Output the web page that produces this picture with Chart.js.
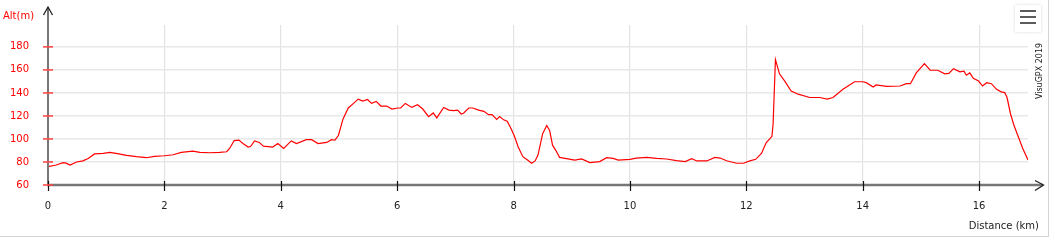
<!DOCTYPE html>
<html>
<head>
<meta charset="utf-8">
<script src="https://cdn.jsdelivr.net/npm/chart.js@4.4.0/dist/chart.umd.min.js"></script>
<style>
body{margin:0;background:#fff;}
#cadre{position:relative;width:1048px;height:236px;border-right:1px solid #d4d4d4;border-bottom:1px solid #d4d4d4;}
</style>
</head>
<body>
<div id="cadre"><canvas id="g_profil" width="1048" height="236"></canvas></div>
<script>
// profil altimetrique
let distances = [0.00,0.14,0.26,0.31,0.38,0.49,0.60,0.69,0.80,0.95,1.06,1.17,1.35,1.52,1.69,1.83,2.00,2.15,2.29,2.49,2.61,2.78,2.95,3.07,3.12,3.20,3.28,3.35,3.44,3.48,3.55,3.63,3.70,3.86,3.95,4.05,4.18,4.27,4.44,4.53,4.64,4.79,4.87,4.93,4.99,5.07,5.16,5.25,5.33,5.41,5.49,5.56,5.64,5.72,5.82,5.91,6.01,6.06,6.14,6.25,6.35,6.44,6.54,6.62,6.68,6.80,6.89,6.97,7.04,7.10,7.14,7.23,7.30,7.40,7.49,7.57,7.63,7.71,7.76,7.83,7.89,7.95,8.01,8.08,8.16,8.24,8.31,8.37,8.42,8.50,8.57,8.62,8.67,8.73,8.79,8.91,9.05,9.17,9.31,9.48,9.60,9.71,9.80,10.00,10.11,10.29,10.46,10.63,10.80,10.95,11.06,11.15,11.32,11.46,11.55,11.66,11.83,11.95,12.06,12.16,12.26,12.34,12.44,12.46,12.50,12.57,12.66,12.77,12.89,13.09,13.26,13.39,13.49,13.66,13.86,14.00,14.06,14.18,14.23,14.41,14.64,14.75,14.82,14.92,15.06,15.16,15.29,15.41,15.48,15.56,15.67,15.74,15.78,15.84,15.90,15.99,16.06,16.13,16.21,16.30,16.38,16.44,16.48,16.54,16.60,16.67,16.75,16.84];
let altitudes = [76,77.4,79.4,79,77.4,80,81,83,87,87.4,88.3,87.4,85.7,84.6,83.7,84.9,85.4,86.3,88.3,89.4,88.3,88,88.3,88.9,91.7,98.6,99,96,93,93.4,98.3,97,93.7,93,96,91.7,98.3,96,99.4,99.4,96,97,99.4,98.9,103,117.4,126.9,130.9,134.6,132.9,134.3,130.9,132.6,128.6,128.6,126,126.9,126.9,130.9,127.4,129.7,126,119.4,122.6,118.3,127.4,125.1,124.6,125.1,121.7,122.3,126.9,126.9,125.1,124,121.1,121.1,116.9,119.4,116.6,115.4,109.7,103,93,84.6,81.7,78.9,80.9,86,104.6,111.7,107.4,94.6,89.7,84,82.9,81.7,82.6,79.4,80.3,83.7,83.1,81.7,82.3,83.4,84,83.1,82.6,81.1,80.3,82.9,80.9,80.9,84,83.4,81.1,78.9,78.9,80.9,82.3,87.4,96.6,102.3,113,168.9,156.6,150.3,141.7,138.9,136,136,134.6,136,143.1,149.7,149.7,148.9,145.1,146.9,145.7,146,148,148,157.4,165.4,159.7,159.7,156.6,156.9,161.1,158.3,158.9,155.4,157.4,152.6,150.3,146,148.9,148,143.1,140.9,140.3,136,121.7,111.7,102.3,91.7,81.7];
let ticks_x = [0,2,4,6,8,10,12,14,16];
let ticks_y = [60,80,100,120,140,160,180];

let puntos = [];
for(let i = 0; i < distances.length; i++){
    puntos.push({x: distances[i], y: altitudes[i]});
}

Chart.defaults.font.family = "'DejaVu Sans', Verdana, sans-serif";
Chart.defaults.font.size = 10;

// axes avec fleches, petits traits, textes et menu
const decor = {
    id: 'decor',
    afterDraw(chart){
        const c = chart.ctx;
        const sx = chart.scales.x, sy = chart.scales.y;
        const x0 = sx.getPixelForValue(0), y0 = sy.getPixelForValue(60);
        c.save();
        c.strokeStyle = '#777';
        c.lineWidth = 2.5;
        c.beginPath(); c.moveTo(x0 - 1, y0); c.lineTo(1043, y0); c.stroke();
        c.lineWidth = 2;
        c.beginPath(); c.moveTo(x0, y0); c.lineTo(x0, 7); c.stroke();
        c.strokeStyle = '#222';
        c.lineWidth = 1.3;
        c.beginPath(); c.moveTo(43.5, 15); c.lineTo(x0, 7); c.lineTo(52.5, 15); c.stroke();
        c.beginPath(); c.moveTo(1035, 180.5); c.lineTo(1043.5, y0); c.lineTo(1035, 190.5); c.stroke();
        c.lineWidth = 1.2;
        c.strokeStyle = '#111';
        ticks_x.forEach(v => {
            let px = Math.round(sx.getPixelForValue(v)) + 0.5;
            c.beginPath(); c.moveTo(px, 181); c.lineTo(px, 191); c.stroke();
        });
        c.strokeStyle = '#ff4a4a';
        c.lineWidth = 1.6;
        ticks_y.forEach(v => {
            let py = sy.getPixelForValue(v);
            c.beginPath(); c.moveTo(43, py); c.lineTo(53, py); c.stroke();
        });
        c.font = "10px 'DejaVu Sans'";
        c.textBaseline = 'middle';
        c.fillStyle = '#ff0000';
        c.textAlign = 'left';
        c.fillText('Alt(m)', 3, 16);
        c.fillStyle = '#222';
        c.textAlign = 'right';
        c.fillText('Distance (km)', 1039, 226);
        c.translate(1040, 71);
        c.rotate(-Math.PI / 2);
        c.textAlign = 'center';
        c.font = "8px 'DejaVu Sans'";
        c.fillText('VisuGPX 2019', 0, 0);
        c.restore();

        c.save();
        c.shadowColor = 'rgba(0,0,0,0.15)';
        c.shadowBlur = 3;
        c.fillStyle = '#fff';
        c.fillRect(1015, 5, 26, 27);
        c.restore();
        c.save();
        c.strokeStyle = '#333';
        c.lineWidth = 1.6;
        [11, 17, 23].forEach(yy => {
            c.beginPath(); c.moveTo(1020, yy); c.lineTo(1036, yy); c.stroke();
        });
        c.restore();
    }
};

let ctx = document.getElementById('g_profil').getContext('2d');
let g_profil = new Chart(ctx, {
    type: 'line',
    data: {
        datasets: [
            {
                data: puntos,
                borderColor: '#ff0000',
                borderWidth: 1.2,
                pointRadius: 0,
                fill: false,
                tension: 0
            }
        ]
    },
    options: {
        responsive: false,
        animation: false,
        layout: {
            padding: {top: 23, right: 20, left: 0, bottom: 0}
        },
        plugins: {
            legend: {display: false},
            tooltip: {enabled: false}
        },
        scales: {
            x: {
                type: 'linear',
                min: 0,
                max: 16.84,
                afterFit: function(s){ s.height = 51; },
                afterBuildTicks: function(s){ s.ticks = ticks_x.map(v => ({value: v})); },
                border: {display: false},
                grid: {color: '#e3e3e3', lineWidth: 1.2, drawTicks: false},
                ticks: {color: '#222', padding: 15, maxRotation: 0, autoSkip: false}
            },
            y: {
                min: 60,
                max: 199,
                afterFit: function(s){ s.width = 48; },
                afterBuildTicks: function(s){ s.ticks = ticks_y.map(v => ({value: v})); },
                border: {display: false},
                grid: {color: '#e8e8e8', lineWidth: 1.6, drawTicks: false},
                ticks: {color: '#ff0000', padding: 19}
            }
        }
    },
    plugins: [decor]
});
</script>
</body>
</html>
